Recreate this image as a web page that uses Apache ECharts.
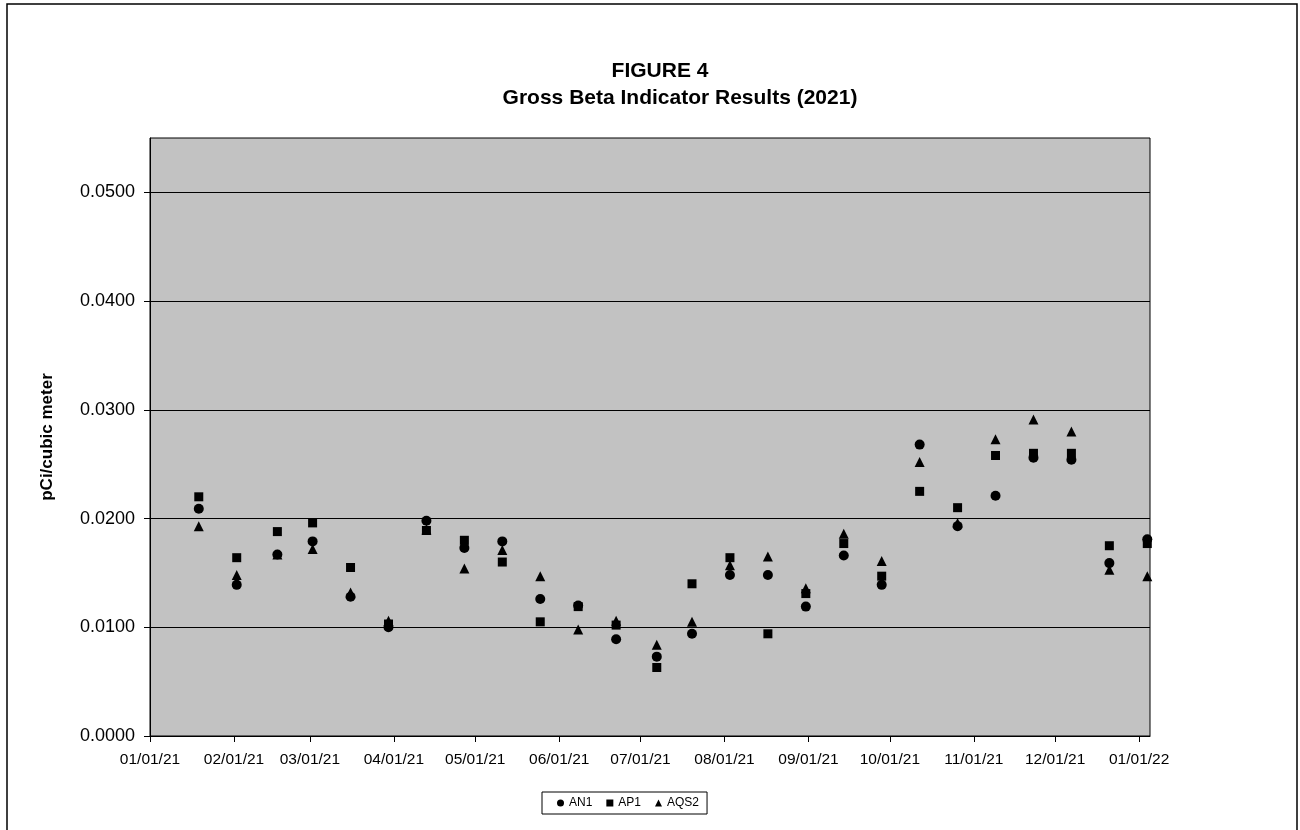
<!DOCTYPE html>
<html>
<head>
<meta charset="utf-8">
<script src="https://cdn.jsdelivr.net/npm/echarts@6/dist/echarts.min.js"></script>
<style>
html,body{margin:0;padding:0;background:#fff;}
#chart{width:1300px;height:830px;}
</style>
</head>
<body>
<div id="chart"></div>
<script>
// ---- data ----
var sampleDates = ['2021-01-19','2021-02-02','2021-02-17','2021-03-02','2021-03-16','2021-03-30','2021-04-13','2021-04-27','2021-05-11','2021-05-25','2021-06-08','2021-06-22','2021-07-07','2021-07-20','2021-08-03','2021-08-17','2021-08-31','2021-09-14','2021-09-28','2021-10-12','2021-10-26','2021-11-09','2021-11-23','2021-12-07','2021-12-21','2022-01-04'];
var AN1  = [0.0209,0.0139,0.0167,0.0179,0.0128,0.0100,0.0198,0.0173,0.0179,0.0126,0.0120,0.0089,0.0073,0.0094,0.0148,0.0148,0.0119,0.0166,0.0139,0.0268,0.0193,0.0221,0.0256,0.0254,0.0159,0.0181];
var AP1  = [0.0220,0.0164,0.0188,0.0196,0.0155,0.0103,0.0189,0.0180,0.0160,0.0105,0.0119,0.0102,0.0063,0.0140,0.0164,0.0094,0.0131,0.0177,0.0147,0.0225,0.0210,0.0258,0.0260,0.0260,0.0175,0.0177];
var AQS2 = [0.0193,0.0148,0.0167,0.0172,0.0132,0.0106,0.0190,0.0154,0.0171,0.0147,0.0098,0.0106,0.0084,0.0105,0.0157,0.0165,0.0136,0.0186,0.0161,0.0252,0.0196,0.0273,0.0291,0.0280,0.0153,0.0147];
var xTickLabels = ['01/01/21','02/01/21','03/01/21','04/01/21','05/01/21','06/01/21','07/01/21','08/01/21','09/01/21','10/01/21','11/01/21','12/01/21','01/01/22'];
var xMin = '2021-01-01';
var xMax = '2022-01-05';
var yTicks = [0, 0.01, 0.02, 0.03, 0.04, 0.05];
var yMax = 0.055;

function toTs(s){ var p = s.split('-'); return Date.UTC(+p[0], +p[1]-1, +p[2]); }
function labelToTs(l){ var p = l.split('/'); return Date.UTC(2000 + +p[2], +p[0]-1, +p[1]); }
function pad(n){ return (n<10?'0':'')+n; }
var tickTs = xTickLabels.map(labelToTs);
function pairs(vals){ return sampleDates.map(function(d,i){ return [toTs(d), vals[i]]; }); }

var chart = echarts.init(document.getElementById('chart'), null, {renderer:'canvas'});
var font = "'Liberation Sans', Arial, sans-serif";
chart.setOption({
  animation:false,
  backgroundColor:'#ffffff',
  textStyle:{fontFamily:font, color:'#000'},
  title:[{
    text:'FIGURE 4',
    left:655, top:56, textAlign:'center',
    textStyle:{fontFamily:font, fontSize:21, fontWeight:'bold', color:'#000'}
  },{
    text:'Gross Beta Indicator Results (2021)',
    left:675, top:83, textAlign:'center',
    textStyle:{fontFamily:font, fontSize:21, fontWeight:'bold', color:'#000'}
  }],
  graphic:[{
    type:'rect', shape:{x:7, y:4, width:1290, height:840},
    style:{fill:'none', stroke:'#000', lineWidth:1.5}, silent:true
  }],
  legend:{
    left:542, top:792,
    orient:'horizontal',
    borderColor:'#000', borderWidth:1, padding:[5,8,5,15],
    itemGap:14, itemWidth:7, itemHeight:7,
    textStyle:{fontFamily:font, fontSize:12, color:'#000'},
    data:[{name:'AN1', icon:'circle'},{name:'AP1', icon:'rect'},{name:'AQS2', icon:'triangle'}]
  },
  grid:{left:150, right:150, top:138, bottom:94, show:true, backgroundColor:'#c2c2c2', borderColor:'#000', borderWidth:1},
  xAxis:{
    type:'value', min:toTs(xMin), max:toTs(xMax),
    axisLine:{show:true, lineStyle:{color:'#000', width:1}},
    axisTick:{show:true, inside:false, length:6, lineStyle:{color:'#000'}, customValues:tickTs},
    axisLabel:{customValues:tickTs, color:'#000', fontFamily:font, fontSize:15.5, margin:16,
      formatter:function(v){ var d=new Date(v); return pad(d.getUTCMonth()+1)+'/'+pad(d.getUTCDate())+'/'+pad(d.getUTCFullYear()%100); },
      showMinLabel:true, showMaxLabel:true, hideOverlap:false},
    splitLine:{show:false}
  },
  yAxis:{
    type:'value', min:0, max:yMax, interval:0.01,
    name:'pCi/cubic meter', nameLocation:'middle', nameGap:94, nameRotate:90,
    nameTextStyle:{fontFamily:font, fontSize:17, fontWeight:'bold', color:'#000'},
    axisLine:{show:true, lineStyle:{color:'#000', width:1}},
    axisTick:{show:true, length:6, lineStyle:{color:'#000'}, customValues:yTicks},
    axisLabel:{customValues:yTicks, color:'#000', fontFamily:font, fontSize:18, margin:15,
      formatter:function(v){ return v.toFixed(4); }},
    splitLine:{show:true, lineStyle:{color:'#000', width:1}}
  },
  series:[
    {name:'AN1', type:'scatter', symbol:'circle', symbolSize:10, clip:false, itemStyle:{color:'#000', opacity:1}, data:pairs(AN1)},
    {name:'AP1', type:'scatter', symbol:'rect', symbolSize:9, clip:false, itemStyle:{color:'#000', opacity:1}, data:pairs(AP1)},
    {name:'AQS2', type:'scatter', symbol:'triangle', symbolSize:10, clip:false, itemStyle:{color:'#000', opacity:1}, data:pairs(AQS2)}
  ]
});
</script>
</body>
</html>
